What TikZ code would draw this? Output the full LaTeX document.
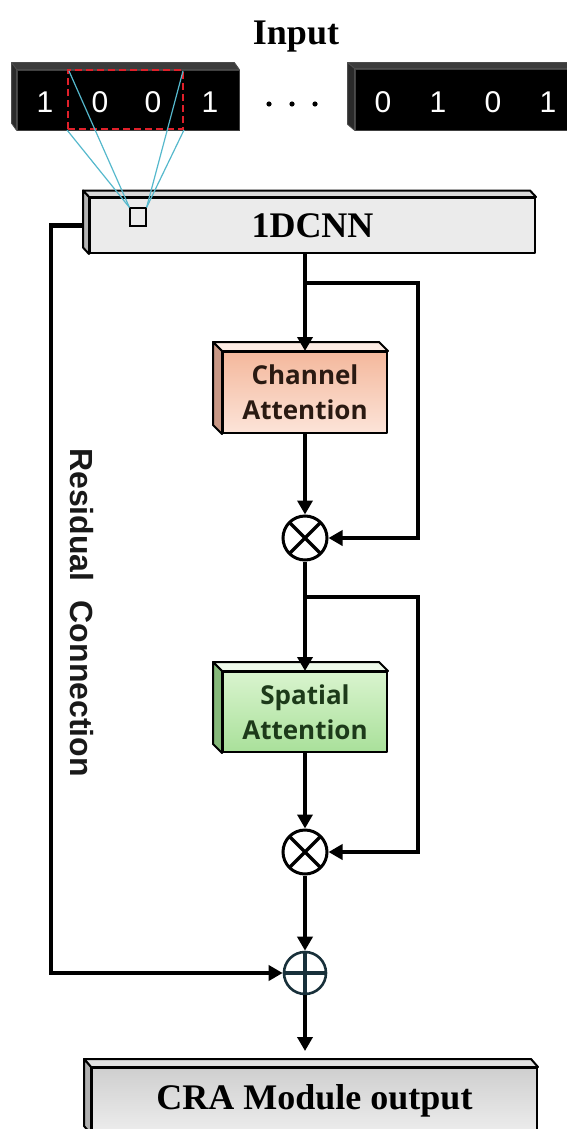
\documentclass[tikz,border=0pt]{standalone}
\usepackage{fontspec}
\setmainfont{Liberation Serif}
\newfontfamily\sansA{Liberation Sans}
\newfontfamily\sansB{Open Sans}
\usetikzlibrary{arrows.meta,calc}
\definecolor{stripTop}{HTML}{3C3C3C}
\definecolor{stripSide}{HTML}{2A2A2A}
\definecolor{winred}{HTML}{E0202A}
\definecolor{cyanl}{HTML}{55B8CC}
\definecolor{cnnFront}{HTML}{EBEBEB}
\definecolor{cnnTop}{HTML}{D8D8D8}
\definecolor{cnnSide}{HTML}{B3B3B3}
\definecolor{caTopC}{HTML}{F4B89C}
\definecolor{caBotC}{HTML}{FCE4D9}
\definecolor{caTopFace}{HTML}{FCEBE3}
\definecolor{caSide}{HTML}{C99886}
\definecolor{caText}{HTML}{2A1A12}
\definecolor{saTopC}{HTML}{D9F4CE}
\definecolor{saBotC}{HTML}{A9E09A}
\definecolor{saTopFace}{HTML}{EEF9EA}
\definecolor{saSide}{HTML}{86B97A}
\definecolor{saText}{HTML}{1D3A1A}
\definecolor{craTopC}{HTML}{CFCFCF}
\definecolor{craBotC}{HTML}{EDEDED}
\definecolor{craTopFace}{HTML}{E2E2E2}
\definecolor{craSide}{HTML}{B0B0B0}
\definecolor{addRim}{HTML}{18303A}
\newcommand{\threed}[5]{%
  \draw[boxline, fill=#4] (#1.north west) -- ++(-#2,-#3) -- ($(#1.north east)+(-#2,-#3)$) -- (#1.north east) -- cycle;
  \draw[boxline, fill=#5] (#1.north west) -- ++(-#2,-#3) -- ($(#1.south west)+(-#2,-#3)$) -- (#1.south west) -- cycle;
}
\begin{document}
\begin{tikzpicture}[x=1pt,y=-1pt,
  conn/.style={line width=4.8pt, line join=miter},
  arr/.style={conn, -{Triangle[width=15pt,length=14pt]}},
  boxline/.style={draw=black, line width=2pt, line join=round},
  strip/.style={fill=black, draw=black!75, line width=0.8pt, inner sep=0pt},
  stripline/.style={draw=black!70, line width=0.8pt, line join=round},
  digit/.style={text=white, font=\sansA\fontsize{30}{30}\selectfont, anchor=base, inner sep=0pt},
  serifbig/.style={font=\bfseries\fontsize{36}{36}\selectfont},
  attn/.style={boxline, inner sep=0pt, align=center, font=\sansB\bfseries\fontsize{26}{35}\selectfont},
  mult/.style={circle, draw=black, line width=3pt, minimum size=44pt, inner sep=0pt, fill=white,
    path picture={\draw[line width=3.5pt] (path picture bounding box.north west) -- (path picture bounding box.south east)
      (path picture bounding box.north east) -- (path picture bounding box.south west);}},
  addn/.style={circle, draw=addRim, line width=2.6pt, minimum size=42pt, inner sep=0pt, fill=white,
    path picture={\draw[line width=3.5pt] (path picture bounding box.north) -- (path picture bounding box.south)
      (path picture bounding box.west) -- (path picture bounding box.east);}},
  cyanline/.style={draw=cyanl, line width=1.2pt}
]
\useasboundingbox (0,0) rectangle (567,1129);
\clip (0,0) rectangle (567,1129);

% title
\node[serifbig, anchor=base, inner sep=0pt] (title) at (296,45) {Input};

% input strips
\node[strip, minimum width=222pt, minimum height=60pt] (s1) at (128,100) {};
\draw[stripline, fill=stripTop] (s1.north west) -- ++(-5,-7) -- ($(s1.north east)+(-5,-7)$) -- (s1.north east) -- cycle;
\draw[stripline, fill=stripSide] (s1.north west) -- ++(-5,-7) -- ($(s1.south west)+(-5,-7)$) -- (s1.south west) -- cycle;
\node[strip, minimum width=240pt, minimum height=61pt] (s2) at (475,99.5) {};
\draw[stripline, fill=stripTop] (s2.north west) -- ++(-7,-6) -- ($(s2.north east)+(-7,-6)$) -- (s2.north east) -- cycle;
\draw[stripline, fill=stripSide] (s2.north west) -- ++(-7,-6) -- ($(s2.south west)+(-7,-6)$) -- (s2.south west) -- cycle;

\node[digit] (d1) at (45,113) {1};
\node[digit] (d2) at (100,113) {0};
\node[digit] (d3) at (153,113) {0};
\node[digit] (d4) at (210,113) {1};
\node[digit] (d5) at (383,113) {0};
\node[digit] (d6) at (438,113) {1};
\node[digit] (d7) at (493,113) {0};
\node[digit] (d8) at (548,113) {1};

\fill (269,104) circle (2.6pt) (292,104) circle (2.6pt) (315,104) circle (2.6pt);

% window
\node[draw=winred, dash pattern=on 7pt off 4pt, line width=2pt, minimum width=115pt, minimum height=59pt, inner sep=0pt] (win) at (125.5,99.5) {};

% residual connection label
\node[font=\sansA\bfseries\fontsize{32}{32}\selectfont, text=black!90, rotate=-90, inner sep=0pt] (rl) at (82,612.5) {Residual\hspace{0.6em}Connection};

% 1DCNN
\node[boxline, fill=cnnFront, minimum width=445pt, minimum height=55pt, inner sep=0pt, serifbig] (cnn) at (312.5,225.5) {1DCNN};
\threed{cnn}{6}{6.5}{cnnTop}{cnnSide}
\node[draw=black, fill=cnnFront, line width=1.2pt, minimum width=16pt, minimum height=18pt, inner sep=0pt] (sq) at (138,217) {};
\draw[cyanline] ([shift={(2,2)}]win.north west) -- (sq.north west);
\draw[cyanline] (win.south west) -- (sq.north west);
\draw[cyanline] ([shift={(-1,2)}]win.north east) -- (sq.north east);
\draw[cyanline] (win.south east) -- (sq.north east);

% attention blocks
\node[attn, top color=caTopC, bottom color=caBotC, text=caText, minimum width=164pt, minimum height=81pt] (ca) at (305,392.5) {Channel\\Attention};
\threed{ca}{9}{9}{caTopFace}{caSide}
\node[attn, top color=saTopC, bottom color=saBotC, text=saText, minimum width=164pt, minimum height=80pt] (sa) at (305,712) {Spatial\\Attention};
\threed{sa}{9}{9}{saTopFace}{saSide}

\node[mult] (m1) at (305,538) {};
\node[mult] (m2) at (305,852) {};
\node[addn] (add) at (305,973) {};

% output
\node[boxline, top color=craTopC, bottom color=craBotC, minimum width=445pt, minimum height=65pt, inner sep=0pt, serifbig] (cra) at (314.5,1100.5) {CRA Module output};
\threed{cra}{7}{8}{craTopFace}{craSide}

% connectors
\coordinate (b1) at (305,283);
\coordinate (r1) at (418,283);
\coordinate (b2) at (305,597);
\coordinate (r2) at (418,597);
\draw[arr] (ca.north |- cnn.south) -- (ca.north);
\draw[arr] (b1) -- (r1) |- (m1.east);
\draw[arr] (ca.south) -- (m1.north);
\draw[arr] (m1.south) -- (sa.north);
\draw[arr] (b2) -- (r2) |- (m2.east);
\draw[arr] (sa.south) -- (m2.north);
\draw[arr] (m2.south) -- (add.north);
\draw[arr] (add.south) -- ([yshift=16pt]add.south |- cra.north);
\draw[arr] ([xshift=-6pt]cnn.west) -- ++(-32,0) |- (add.west);
\end{tikzpicture}
\end{document}
